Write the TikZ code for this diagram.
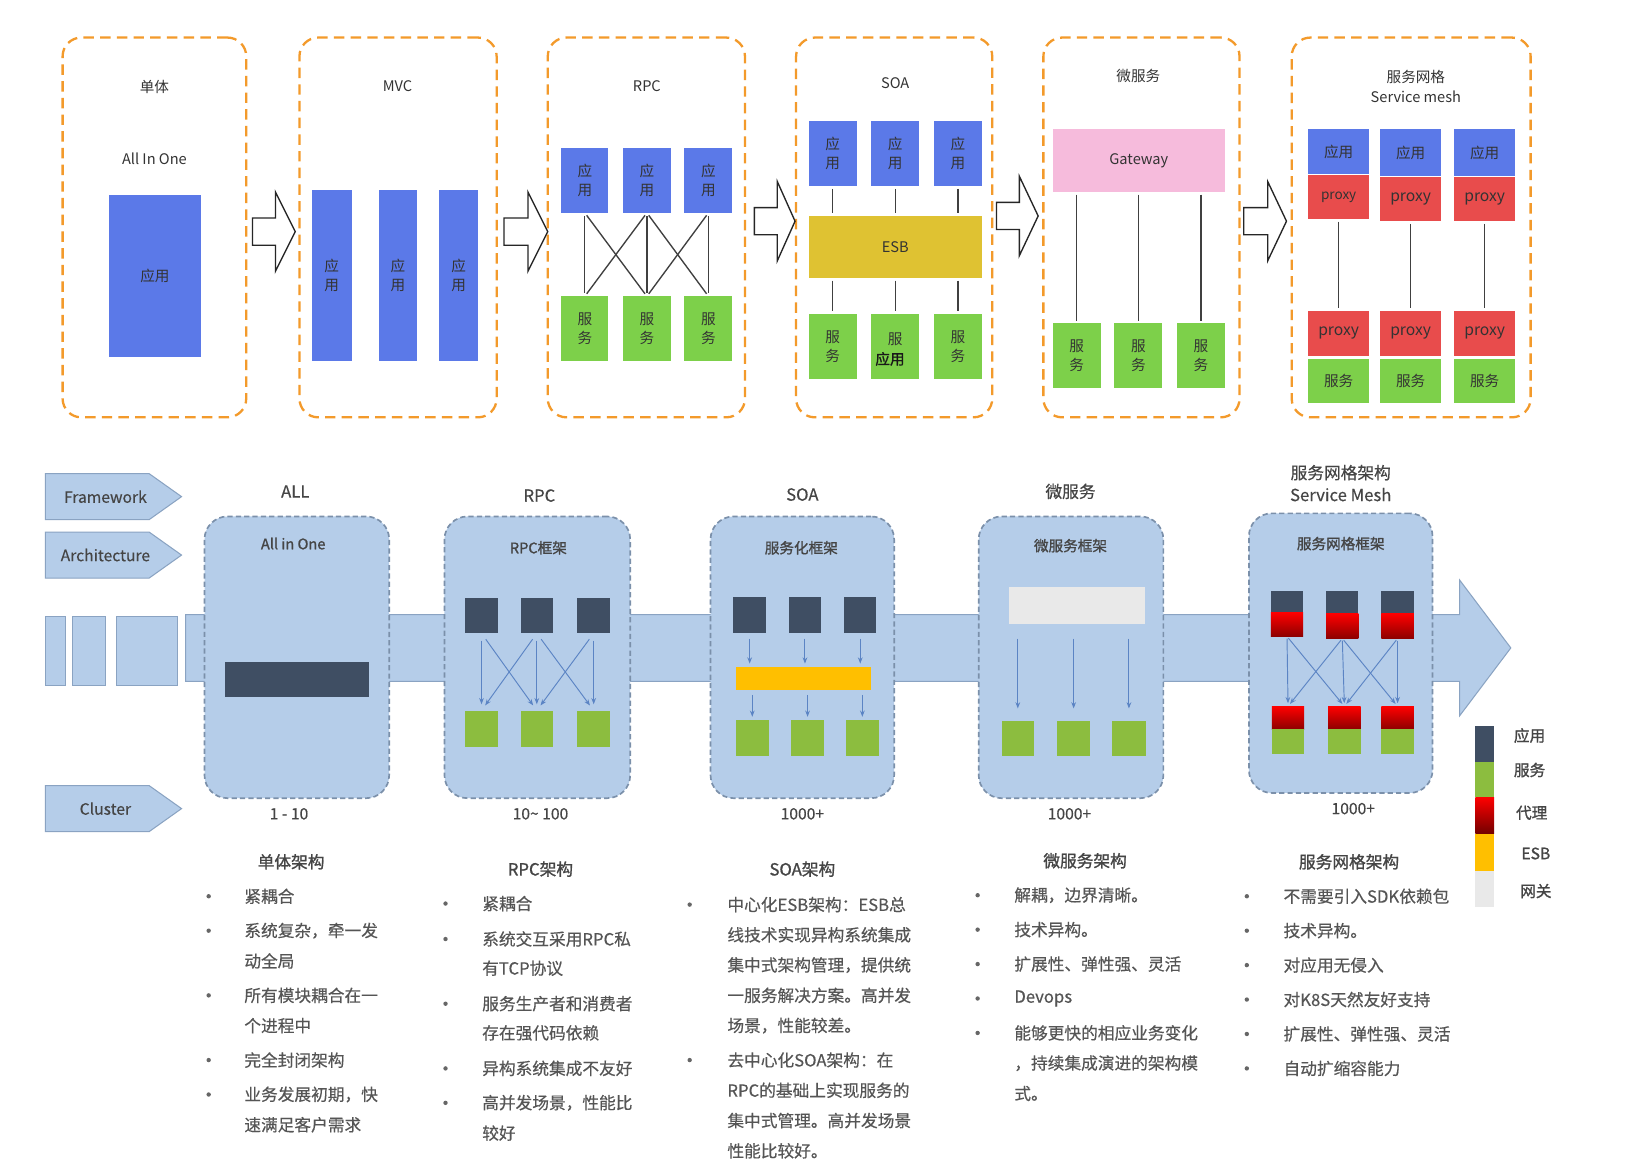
\documentclass[tikz,border=0pt]{standalone}
\usepackage{fontspec}
\setmainfont{Noto Sans CJK SC}
\newfontfamily\cjkb[FakeBold=1.2]{Noto Sans CJK SC}
\newfontfamily\cjkm[FakeBold=0.4]{Noto Sans CJK SC}
\usetikzlibrary{arrows.meta}
\definecolor{oran}{HTML}{F39A2B}
\definecolor{appblue}{HTML}{5B79E8}
\definecolor{svcgreen}{HTML}{7DD04A}
\definecolor{esbyel}{HTML}{DFC232}
\definecolor{gwpink}{HTML}{F6BBDC}
\definecolor{proxyred}{HTML}{E84C4C}
\definecolor{lb}{HTML}{B5CDE9}
\definecolor{lbd}{HTML}{8AA3C2}
\definecolor{dashc}{HTML}{7B90AA}
\definecolor{slate}{HTML}{3F4E63}
\definecolor{lg}{HTML}{8CBD3F}
\definecolor{yel}{HTML}{FFBF00}
\definecolor{gwc}{HTML}{E9E9E9}
\definecolor{arr}{HTML}{5B84C4}
\definecolor{txt}{HTML}{555555}
\definecolor{txtd}{HTML}{454545}
\newcommand{\mkbox}[7]{\node[#6, minimum width={(#4)-(#2)}, minimum height={(#5)-(#3)}] (#1) at ({((#2)+(#4))/2},{((#3)+(#5))/2}) {#7};}
\newcommand{\barr}[4]{\draw[barrow] (#1,#4-13) -- (#2,#4-13) -- (#2,#4-38) -- (#3,#4) -- (#2,#4+38) -- (#2,#4+13) -- (#1,#4+13) -- cycle;}
\begin{document}
\begin{tikzpicture}[x=1pt,y=-1pt,
 obox/.style={draw=oran, line width=2.2pt, dash pattern=on 10pt off 6pt, rounded corners=18pt, inner sep=0, outer sep=0},
 blk/.style={inner sep=0, outer sep=0, align=center, font=\fontsize{14}{18}\selectfont, text=black!80},
 app/.style={blk, fill=appblue},
 svc/.style={blk, fill=svcgreen},
 esb/.style={blk, fill=esbyel},
 gwy/.style={blk, fill=gwpink},
 prx/.style={blk, fill=proxyred, font=\fontsize{15}{18}\selectfont},
 ttl/.style={inner sep=0, font=\fontsize{14}{16}\selectfont, text=black!80},
 ln/.style={draw=black!75, line width=1.3pt},
 barrow/.style={draw=black!85, line width=1.3pt, fill=white, line join=miter},
 bbox/.style={fill=lb, draw=dashc, line width=1.6pt, dash pattern=on 5pt off 3pt, rounded corners=22pt, inner sep=0, outer sep=0},
 sq/.style={inner sep=0, outer sep=0},
 dk/.style={sq, fill=slate},
 gr/.style={sq, fill=lg},
 redsq/.style={sq, top color=red!100, bottom color=red!55!black},
 ar/.style={draw=arr, line width=0.9pt, -{Stealth[length=6pt,width=4.5pt]}},
 btitle/.style={inner sep=0, font=\cjkm\fontsize{16}{18}\selectfont, text=txtd},
 btin/.style={inner sep=0, font=\cjkb\fontsize{14}{16}\selectfont, text=txtd},
 cnt/.style={inner sep=0, font=\cjkm\fontsize{15}{17}\selectfont, text=txtd},
 hd/.style={inner sep=0, font=\cjkb\fontsize{16}{18}\selectfont, text=txtd},
 itm/.style={inner sep=0, anchor=west, font=\cjkm\fontsize{16}{18}\selectfont, text=txt},
 bul/.style={circle, fill=txt!90, inner sep=0, minimum size=4.2pt},
 pent/.style={fill=lb, draw=lbd, line width=1pt},
 pentt/.style={inner sep=0, font=\cjkm\fontsize{15}{17}\selectfont, text=txtd},
 band/.style={fill=lb, draw=lbd, line width=1pt},
 leg/.style={inner sep=0, font=\cjkb\fontsize{15}{17}\selectfont, text=txtd}
]
\useasboundingbox[fill=white] (0,0) rectangle (1568,1115);

% ---------------- top row ----------------
\mkbox{ob1}{60}{36}{236}{400}{obox}{}
\mkbox{ob2}{287}{36}{476}{400}{obox}{}
\mkbox{ob3}{525}{36}{714}{400}{obox}{}
\mkbox{ob4}{763}{36}{951}{400}{obox}{}
\mkbox{ob5}{1000}{36}{1188}{400}{obox}{}
\mkbox{ob6}{1238}{36}{1467}{400}{obox}{}

\node[ttl] (t1) at (148,83) {单体};
\node[ttl] (t1b) at (148,152) {All In One};
\node[ttl] (t2) at (381,83) {MVC};
\node[ttl] (t3) at (620,83) {RPC};
\node[ttl] (t4) at (858,80) {SOA};
\node[ttl] (t5) at (1091,73) {微服务};
\node[ttl] (t6) at (1357,74) {服务网格};
\node[ttl] (t6b) at (1357,93) {Service mesh};

\barr{242}{264}{283}{222}
\barr{483}{506}{525}{222}
\barr{723}{745}{762}{212}
\barr{955}{977}{995}{207}
\barr{1192}{1215}{1233}{212}

% single
\mkbox{a0}{104}{187}{193}{342}{app}{应用}
% MVC
\mkbox{m1}{299}{182}{337}{346}{app}{应\\用}
\mkbox{m2}{363}{182}{400}{346}{app}{应\\用}
\mkbox{m3}{421}{182}{458}{346}{app}{应\\用}
% RPC
\mkbox{ra1}{538}{142}{583}{204}{app}{应\\用}
\mkbox{ra2}{597}{142}{643}{204}{app}{应\\用}
\mkbox{ra3}{656}{142}{702}{204}{app}{应\\用}
\mkbox{rs1}{538}{284}{583}{346}{svc}{服\\务}
\mkbox{rs2}{597}{284}{643}{346}{svc}{服\\务}
\mkbox{rs3}{656}{284}{702}{346}{svc}{服\\务}
\begin{scope}[shorten <=3pt, shorten >=3pt]
\draw[ln] (ra1.south) -- (rs1.north);
\draw[ln] (ra2.south) -- (rs2.north);
\draw[ln] (ra3.south) -- (rs3.north);
\draw[ln] (ra1.south) -- (rs2.north);
\draw[ln] (ra2.south) -- (rs1.north);
\draw[ln] (ra2.south) -- (rs3.north);
\draw[ln] (ra3.south) -- (rs2.north);
\end{scope}
% SOA
\mkbox{sa1}{775}{116}{821}{178}{app}{应\\用}
\mkbox{sa2}{835}{116}{881}{178}{app}{应\\用}
\mkbox{sa3}{895}{116}{941}{178}{app}{应\\用}
\mkbox{esb}{775}{207}{941}{266}{esb}{ESB}
\mkbox{ss1}{775}{301}{821}{363}{svc}{服\\务}
\mkbox{ss2}{835}{301}{881}{363}{svc}{}
\mkbox{ss3}{895}{301}{941}{363}{svc}{服\\务}
\node[blk] (ss2a) at (858,325) {服};
\node[inner sep=0, font=\cjkb\fontsize{14}{16}\selectfont, text=black!90] (ss2b) at (853,344) {应用};
\begin{scope}[shorten <=3pt, shorten >=2.5pt]
\draw[ln] (sa1.south) -- (sa1.south |- esb.north);
\draw[ln] (sa2.south) -- (sa2.south |- esb.north);
\draw[ln] (sa3.south) -- (sa3.south |- esb.north);
\draw[ln] (ss1.north |- esb.south) -- (ss1.north);
\draw[ln] (ss2.north |- esb.south) -- (ss2.north);
\draw[ln] (ss3.north |- esb.south) -- (ss3.north);
\end{scope}
% microservices
\mkbox{gw}{1009}{124}{1174}{184}{gwy}{Gateway}
\mkbox{ms1}{1009}{310}{1055}{372}{svc}{服\\务}
\mkbox{ms2}{1068}{310}{1114}{372}{svc}{服\\务}
\mkbox{ms3}{1128}{310}{1174}{372}{svc}{服\\务}
\begin{scope}[shorten <=2.5pt, shorten >=2pt]
\draw[ln] (ms1.north |- gw.south) -- (ms1.north);
\draw[ln] (ms2.north |- gw.south) -- (ms2.north);
\draw[ln] (ms3.north |- gw.south) -- (ms3.north);
\end{scope}
% service mesh
\mkbox{sma1}{1254}{124}{1312}{167}{app}{应用}
\mkbox{sma2}{1323}{124}{1381}{169}{app}{应用}
\mkbox{sma3}{1394}{124}{1452}{169}{app}{应用}
\mkbox{smp1}{1254}{168}{1312}{210}{prx, font=\fontsize{13}{16}\selectfont}{proxy}
\mkbox{smp2}{1323}{170}{1381}{212}{prx}{proxy}
\mkbox{smp3}{1394}{170}{1452}{212}{prx}{proxy}
\mkbox{smq1}{1254}{298}{1312}{341}{prx}{proxy}
\mkbox{smq2}{1323}{298}{1381}{341}{prx}{proxy}
\mkbox{smq3}{1394}{298}{1452}{341}{prx}{proxy}
\mkbox{sms1}{1254}{344}{1312}{386}{svc}{服务}
\mkbox{sms2}{1323}{344}{1381}{386}{svc}{服务}
\mkbox{sms3}{1394}{344}{1452}{386}{svc}{服务}
\begin{scope}[shorten <=2.5pt, shorten >=3pt]
\draw[ln] (smp1.south) -- (smq1.north);
\draw[ln] (smp2.south) -- (smq2.north);
\draw[ln] (smp3.south) -- (smq3.north);
\end{scope}

% ---------------- bottom ----------------
\draw[pent] (43.5,454) -- (143,454) -- (174,476) -- (143,498) -- (43.5,498) -- cycle;
\node[pentt] (fw) at (101,476) {Framework};
\draw[pent] (43.5,510) -- (143,510) -- (174,532) -- (143,554) -- (43.5,554) -- cycle;
\node[pentt] (arc) at (101,532) {Architecture};
\draw[pent] (43.5,753) -- (143,753) -- (174,775) -- (143,797) -- (43.5,797) -- cycle;
\node[pentt] (cl) at (101,775) {Cluster};

\draw[band] (43.7,591) rectangle (63.1,657);
\draw[band] (69.2,591) rectangle (101.5,657);
\draw[band] (112,591) rectangle (169.8,657);
\draw[band] (178,589) -- (1399,589) -- (1399,556) -- (1448,621) -- (1399,686) -- (1399,653) -- (178,653) -- cycle;

\mkbox{b1}{196}{495}{373}{765}{bbox}{}
\mkbox{b2}{426}{495}{604}{765}{bbox}{}
\mkbox{b3}{681}{495}{857}{765}{bbox}{}
\mkbox{b4}{938}{495}{1115}{765}{bbox}{}
\mkbox{b5}{1197}{492}{1373}{760}{bbox}{}

\node[btitle] (bt1) at (283,471) {ALL};
\node[btitle] (bt2) at (517,475) {RPC};
\node[btitle] (bt3) at (769,474) {SOA};
\node[btitle] (bt4) at (1026,471) {微服务};
\node[btitle] (bt5) at (1285,453) {服务网格架构};
\node[btitle] (bt5b) at (1285,474) {Service Mesh};

\node[btin] (bi1) at (281,521) {All in One};
\node[btin] (bi2) at (516,525) {RPC框架};
\node[btin] (bi3) at (768,525) {服务化框架};
\node[btin] (bi4) at (1026,523) {微服务框架};
\node[btin] (bi5) at (1285,521) {服务网格框架};

\node[cnt] (n1) at (277,780) {1 - 10};
\node[cnt] (n2) at (518,780) {10\textasciitilde\ 100};
\node[cnt] (n3) at (769,780) {1000+};
\node[cnt] (n4) at (1025,780) {1000+};
\node[cnt] (n5) at (1297,775) {1000+};

% ALL
\mkbox{ad}{216}{634}{354}{668}{dk}{}
% RPC
\mkbox{rd1}{446}{573}{477}{607}{dk}{}
\mkbox{rd2}{499}{573}{530}{607}{dk}{}
\mkbox{rd3}{553}{573}{585}{607}{dk}{}
\mkbox{rg1}{446}{681}{477}{716}{gr}{}
\mkbox{rg2}{499}{681}{530}{716}{gr}{}
\mkbox{rg3}{553}{681}{585}{716}{gr}{}
\begin{scope}[shorten <=7pt, shorten >=6pt]
\draw[ar] (rd1.south) -- (rg1.north);
\draw[ar] (rd2.south) -- (rg2.north);
\draw[ar] (rd3.south) -- (rg3.north);
\draw[ar] (rd1.south) -- (rg2.north);
\draw[ar] (rd2.south) -- (rg1.north);
\draw[ar] (rd2.south) -- (rg3.north);
\draw[ar] (rd3.south) -- (rg2.north);
\end{scope}
% SOA
\mkbox{sd1}{703}{572}{734}{607}{dk}{}
\mkbox{sd2}{756}{572}{787}{607}{dk}{}
\mkbox{sd3}{809}{572}{840}{607}{dk}{}
\mkbox{se}{705}{639}{835}{661}{sq, fill=yel}{}
\mkbox{sg1}{705}{690}{737}{725}{gr}{}
\mkbox{sg2}{758}{690}{790}{725}{gr}{}
\mkbox{sg3}{811}{690}{842}{725}{gr}{}
\begin{scope}[shorten <=5pt, shorten >=3pt]
\draw[ar] (sd1.south) -- (sd1.south |- se.north);
\draw[ar] (sd2.south) -- (sd2.south |- se.north);
\draw[ar] (sd3.south) -- (sd3.south |- se.north);
\draw[ar] (sg1.north |- se.south) -- (sg1.north);
\draw[ar] (sg2.north |- se.south) -- (sg2.north);
\draw[ar] (sg3.north |- se.south) -- (sg3.north);
\end{scope}
% microservices
\mkbox{mgw}{967}{563}{1097}{598}{sq, fill=gwc}{}
\mkbox{mg1}{960}{691}{991}{725}{gr}{}
\mkbox{mg2}{1013}{691}{1045}{725}{gr}{}
\mkbox{mg3}{1066}{691}{1098}{725}{gr}{}
\begin{scope}[shorten <=14pt, shorten >=12pt]
\draw[ar] (mg1.north |- mgw.south) -- (mg1.north);
\draw[ar] (mg2.north |- mgw.south) -- (mg2.north);
\draw[ar] (mg3.north |- mgw.south) -- (mg3.north);
\end{scope}
% service mesh
\mkbox{smd1}{1218}{566}{1249}{588}{dk}{}
\mkbox{smd2}{1271}{566}{1302}{588}{dk}{}
\mkbox{smd3}{1324}{566}{1355}{588}{dk}{}
\mkbox{smr1}{1218}{587}{1249}{610}{redsq}{}
\mkbox{smr2}{1271}{588}{1302}{612}{redsq}{}
\mkbox{smr3}{1324}{588}{1355}{612}{redsq}{}
\mkbox{sbr1}{1219}{677}{1250}{699}{redsq}{}
\mkbox{sbr2}{1273}{677}{1304}{699}{redsq}{}
\mkbox{sbr3}{1324}{677}{1355}{699}{redsq}{}
\mkbox{sbg1}{1219}{699}{1250}{723}{gr}{}
\mkbox{sbg2}{1273}{699}{1304}{723}{gr}{}
\mkbox{sbg3}{1324}{699}{1355}{723}{gr}{}
\begin{scope}[shorten <=2pt, shorten >=3pt]
\draw[ar] (smr1.south) -- (sbr1.north);
\draw[ar] (smr2.south) -- (sbr2.north);
\draw[ar] (smr3.south) -- (sbr3.north);
\draw[ar] (smr1.south) -- (sbr2.north);
\draw[ar] (smr2.south) -- (sbr1.north);
\draw[ar] (smr2.south) -- (sbr3.north);
\draw[ar] (smr3.south) -- (sbr2.north);
\end{scope}

% legend
\mkbox{lg1}{1414}{696}{1432}{730}{dk}{}
\mkbox{lg2}{1414}{730}{1432}{764}{gr}{}
\mkbox{lg3}{1414}{764}{1432}{799}{sq, top color=red, bottom color=red!45!black}{}
\mkbox{lg4}{1414}{799}{1432}{835}{sq, fill=yel}{}
\mkbox{lg5}{1414}{835}{1432}{869}{sq, fill=gwc}{}
\node[leg] (lt1) at (1466,705) {应用};
\node[leg] (lt2) at (1466,738) {服务};
\node[leg] (lt3) at (1468,779) {代理};
\node[leg] (lt4) at (1472,818) {ESB};
\node[leg] (lt5) at (1472,854) {网关};

% ---------------- text columns ----------------
\node[hd] (h1) at (279,826) {单体架构};
\node[bul] (p11) at (200,859) {};  \node[itm] (c11) at (234,859) {紧耦合};
\node[bul] (p12) at (200,892) {};  \node[itm] (c12) at (234,892) {系统复杂，牵一发};
\node[itm] (c13) at (234,921) {动全局};
\node[bul] (p14) at (200,954) {};  \node[itm] (c14) at (234,954) {所有模块耦合在一};
\node[itm] (c15) at (234,983) {个进程中};
\node[bul] (p16) at (200,1016) {}; \node[itm] (c16) at (234,1016) {完全封闭架构};
\node[bul] (p17) at (200,1049) {}; \node[itm] (c17) at (234,1049) {业务发展初期，快};
\node[itm] (c18) at (234,1078) {速满足客户需求};

\node[hd] (h2) at (518,833) {RPC架构};
\node[bul] (p21) at (427,866) {};  \node[itm] (c21) at (462,866) {紧耦合};
\node[bul] (p22) at (427,900) {};  \node[itm] (c22) at (462,900) {系统交互采用RPC私};
\node[itm] (c23) at (462,928) {有TCP协议};
\node[bul] (p24) at (427,962) {};  \node[itm] (c24) at (462,962) {服务生产者和消费者};
\node[itm] (c25) at (462,990) {存在强代码依赖};
\node[bul] (p26) at (427,1024) {}; \node[itm] (c26) at (462,1024) {异构系统集成不友好};
\node[bul] (p27) at (427,1057) {}; \node[itm] (c27) at (462,1057) {高并发场景，性能比};
\node[itm] (c28) at (462,1086) {较好};

\node[hd] (h3) at (769,833) {SOA架构};
\node[bul] (p31) at (661,867) {};  \node[itm] (c31) at (697,867) {中心化ESB架构：ESB总};
\node[itm] (c32) at (697,896) {线技术实现异构系统集成};
\node[itm] (c33) at (697,925) {集中式架构管理，提供统};
\node[itm] (c34) at (697,954) {一服务解决方案。高并发};
\node[itm] (c35) at (697,983) {场景，性能较差。};
\node[bul] (p36) at (661,1016) {}; \node[itm] (c36) at (697,1016) {去中心化SOA架构：在};
\node[itm] (c37) at (697,1045) {RPC的基础上实现服务的};
\node[itm] (c38) at (697,1074) {集中式管理。高并发场景};
\node[itm] (c39) at (697,1103) {性能比较好。};

\node[hd] (h4) at (1040,825) {微服务架构};
\node[bul] (p41) at (937,858) {};  \node[itm] (c41) at (972,858) {解耦，边界清晰。};
\node[bul] (p42) at (937,891) {};  \node[itm] (c42) at (972,891) {技术异构。};
\node[bul] (p43) at (937,924) {};  \node[itm] (c43) at (972,924) {扩展性、弹性强、灵活};
\node[bul] (p44) at (937,957) {};  \node[itm] (c44) at (972,957) {Devops};
\node[bul] (p45) at (937,990) {};  \node[itm] (c45) at (972,990) {能够更快的相应业务变化};
\node[itm] (c46) at (972,1019) {，持续集成演进的架构模};
\node[itm] (c47) at (972,1048) {式。};

\node[hd] (h5) at (1293,826) {服务网格架构};
\node[bul] (p51) at (1195,859) {};  \node[itm] (c51) at (1230,859) {不需要引入SDK依赖包};
\node[bul] (p52) at (1195,892) {};  \node[itm] (c52) at (1230,892) {技术异构。};
\node[bul] (p53) at (1195,925) {};  \node[itm] (c53) at (1230,925) {对应用无侵入};
\node[bul] (p54) at (1195,958) {};  \node[itm] (c54) at (1230,958) {对K8S天然友好支持};
\node[bul] (p55) at (1195,991) {};  \node[itm] (c55) at (1230,991) {扩展性、弹性强、灵活};
\node[bul] (p56) at (1195,1024) {}; \node[itm] (c56) at (1230,1024) {自动扩缩容能力};
\end{tikzpicture}
\end{document}
